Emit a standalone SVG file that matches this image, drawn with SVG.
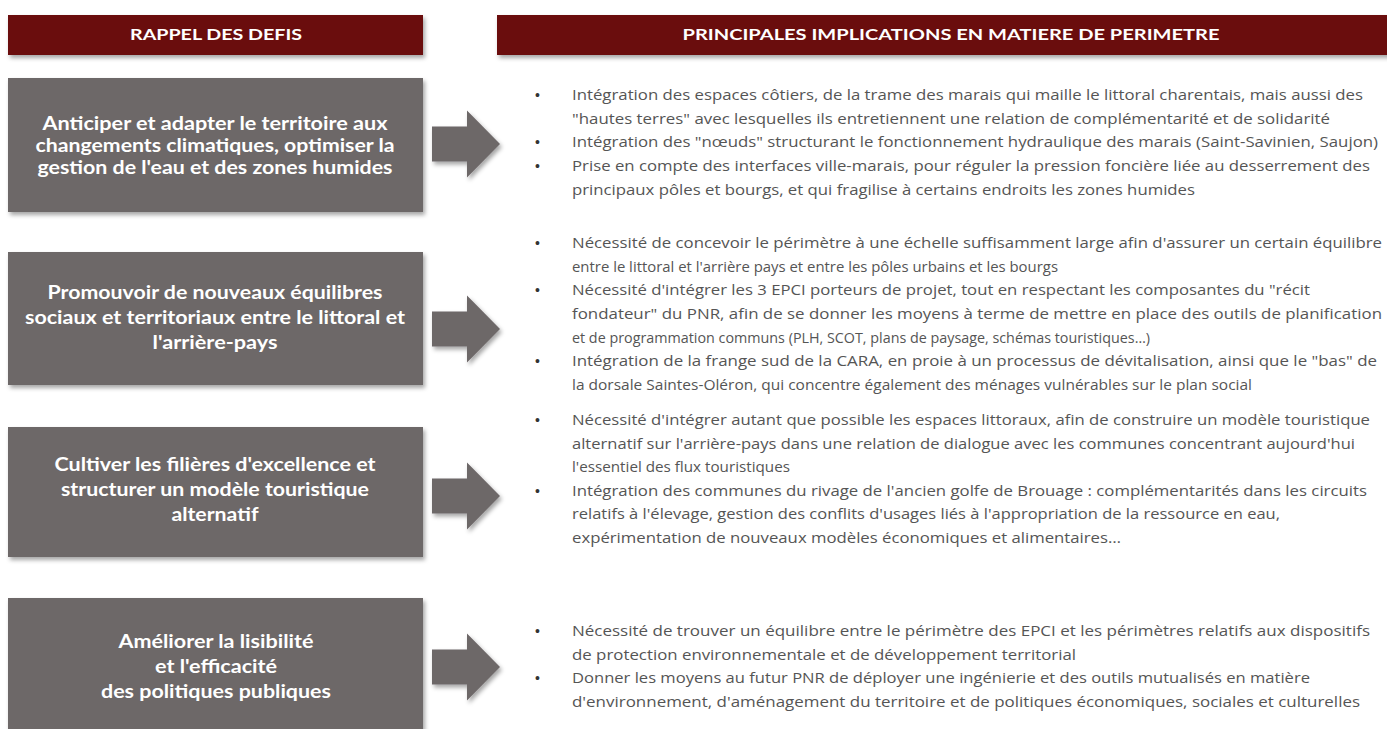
<svg xmlns="http://www.w3.org/2000/svg" width="1387" height="729" viewBox="0 0 1387 729">
<defs>
<filter id="sh" x="-5%" y="-10%" width="115%" height="130%">
<feDropShadow dx="2" dy="3" stdDeviation="2" flood-color="#000" flood-opacity="0.35"/>
</filter>
<style>
.hdr{fill:#6b1111;}
.hdrt{font-family:Lato,"Open Sans","Liberation Sans",sans-serif;font-weight:700;font-size:15px;fill:#fff;text-anchor:middle;}
.box{fill:#6d6768;}
.boxt{font-family:Lato,"Open Sans","Liberation Sans",sans-serif;font-weight:700;font-size:19px;fill:#fff;text-anchor:middle;}
.arr{fill:#6d6768;}
.txt{font-family:"Open Sans","Liberation Sans",sans-serif;font-size:15px;fill:#555;}
.bul{font-family:"Liberation Sans",sans-serif;font-size:14px;fill:#333;}
</style>
</defs>
<rect width="1387" height="729" fill="#fff"/>

<g id="header-defis">
<rect class="hdr" x="8" y="15" width="415" height="40" filter="url(#sh)"/>
<text class="hdrt" x="216" y="40" textLength="172" lengthAdjust="spacingAndGlyphs">RAPPEL DES DEFIS</text>
</g>
<g id="header-implications">
<rect class="hdr" x="497" y="15" width="895" height="40" filter="url(#sh)"/>
<text class="hdrt" x="951" y="40" textLength="537" lengthAdjust="spacingAndGlyphs">PRINCIPALES IMPLICATIONS EN MATIERE DE PERIMETRE</text>
</g>

<g id="defi1">
<rect class="box" x="8" y="78" width="415" height="134" filter="url(#sh)"/>
<text class="boxt" x="215" y="130" textLength="345" lengthAdjust="spacingAndGlyphs">Anticiper et adapter le territoire aux</text>
<text class="boxt" x="215" y="152" textLength="359" lengthAdjust="spacingAndGlyphs">changements climatiques, optimiser la</text>
<text class="boxt" x="215" y="174" textLength="355" lengthAdjust="spacingAndGlyphs">gestion de l'eau et des zones humides</text>
</g>
<g id="defi2">
<rect class="box" x="8" y="252" width="415" height="133" filter="url(#sh)"/>
<text class="boxt" x="215" y="299" textLength="335" lengthAdjust="spacingAndGlyphs">Promouvoir de nouveaux équilibres</text>
<text class="boxt" x="215" y="324" textLength="380" lengthAdjust="spacingAndGlyphs">sociaux et territoriaux entre le littoral et</text>
<text class="boxt" x="215" y="349" textLength="125" lengthAdjust="spacingAndGlyphs">l'arrière-pays</text>
</g>
<g id="defi3">
<rect class="box" x="8" y="427" width="415" height="130" filter="url(#sh)"/>
<text class="boxt" x="215" y="471" textLength="321" lengthAdjust="spacingAndGlyphs">Cultiver les filières d'excellence et</text>
<text class="boxt" x="215" y="496" textLength="308" lengthAdjust="spacingAndGlyphs">structurer un modèle touristique</text>
<text class="boxt" x="215" y="521" textLength="87" lengthAdjust="spacingAndGlyphs">alternatif</text>
</g>
<g id="defi4">
<rect class="box" x="8" y="598" width="415" height="140" filter="url(#sh)"/>
<text class="boxt" x="216" y="648" textLength="195" lengthAdjust="spacingAndGlyphs">Améliorer la lisibilité</text>
<text class="boxt" x="216" y="673" textLength="122" lengthAdjust="spacingAndGlyphs">et l'efficacité</text>
<text class="boxt" x="216" y="698" textLength="230" lengthAdjust="spacingAndGlyphs">des politiques publiques</text>
</g>

<g id="connectors">
<polygon class="arr" filter="url(#sh)" points="432,126.5 467,126.5 467,110.5 500,144 467,177.5 467,161.5 432,161.5"/>
<polygon class="arr" filter="url(#sh)" points="432,311.5 467,311.5 467,295.5 500,329 467,362.5 467,346.5 432,346.5"/>
<polygon class="arr" filter="url(#sh)" points="432,478.5 467,478.5 467,462.5 500,496 467,529.5 467,513.5 432,513.5"/>
<polygon class="arr" filter="url(#sh)" points="432,649.5 467,649.5 467,633.5 500,667 467,700.5 467,684.5 432,684.5"/>
</g>

<g id="implications1">
<text class="bul" x="535" y="100">•</text>
<text class="bul" x="535" y="147">•</text>
<text class="bul" x="535" y="171">•</text>
<text class="txt" x="572" y="100" textLength="791" lengthAdjust="spacingAndGlyphs">Intégration des espaces côtiers, de la trame des marais qui maille le littoral charentais, mais aussi des</text>
<text class="txt" x="572" y="124" textLength="758" lengthAdjust="spacingAndGlyphs">"hautes terres" avec lesquelles ils entretiennent une relation de complémentarité et de solidarité</text>
<text class="txt" x="572" y="147" textLength="806" lengthAdjust="spacingAndGlyphs">Intégration des "nœuds" structurant le fonctionnement hydraulique des marais (Saint-Savinien, Saujon)</text>
<text class="txt" x="572" y="171" textLength="798" lengthAdjust="spacingAndGlyphs">Prise en compte des interfaces ville-marais, pour réguler la pression foncière liée au desserrement des</text>
<text class="txt" x="572" y="195" textLength="623" lengthAdjust="spacingAndGlyphs">principaux pôles et bourgs, et qui fragilise à certains endroits les zones humides</text>
</g>

<g id="implications2">
<text class="bul" x="535" y="248">•</text>
<text class="bul" x="535" y="295">•</text>
<text class="bul" x="535" y="366">•</text>
<text class="txt" x="572" y="248" textLength="810" lengthAdjust="spacingAndGlyphs">Nécessité de concevoir le périmètre à une échelle suffisamment large afin d'assurer un certain équilibre</text>
<text class="txt" x="572" y="272" textLength="486" lengthAdjust="spacingAndGlyphs">entre le littoral et l'arrière pays et entre les pôles urbains et les bourgs</text>
<text class="txt" x="572" y="295" textLength="738" lengthAdjust="spacingAndGlyphs">Nécessité d'intégrer les 3 EPCI porteurs de projet, tout en respectant les composantes du "récit</text>
<text class="txt" x="572" y="319" textLength="810" lengthAdjust="spacingAndGlyphs">fondateur" du PNR, afin de se donner les moyens à terme de mettre en place des outils de planification</text>
<text class="txt" x="572" y="343" textLength="578" lengthAdjust="spacingAndGlyphs">et de programmation communs (PLH, SCOT, plans de paysage, schémas touristiques…)</text>
<text class="txt" x="572" y="366" textLength="805" lengthAdjust="spacingAndGlyphs">Intégration de la frange sud de la CARA, en proie à un processus de dévitalisation, ainsi que le "bas" de</text>
<text class="txt" x="572" y="390" textLength="680" lengthAdjust="spacingAndGlyphs">la dorsale Saintes-Oléron, qui concentre également des ménages vulnérables sur le plan social</text>
</g>

<g id="implications3">
<text class="bul" x="535" y="425">•</text>
<text class="bul" x="535" y="496">•</text>
<text class="txt" x="572" y="425" textLength="798" lengthAdjust="spacingAndGlyphs">Nécessité d'intégrer autant que possible les espaces littoraux, afin de construire un modèle touristique</text>
<text class="txt" x="572" y="449" textLength="783" lengthAdjust="spacingAndGlyphs">alternatif sur l'arrière-pays dans une relation de dialogue avec les communes concentrant aujourd'hui</text>
<text class="txt" x="572" y="472" textLength="218" lengthAdjust="spacingAndGlyphs">l'essentiel des flux touristiques</text>
<text class="txt" x="572" y="496" textLength="795" lengthAdjust="spacingAndGlyphs">Intégration des communes du rivage de l'ancien golfe de Brouage : complémentarités dans les circuits</text>
<text class="txt" x="572" y="519" textLength="708" lengthAdjust="spacingAndGlyphs">relatifs à l'élevage, gestion des conflits d'usages liés à l'appropriation de la ressource en eau,</text>
<text class="txt" x="572" y="543" textLength="549" lengthAdjust="spacingAndGlyphs">expérimentation de nouveaux modèles économiques et alimentaires…</text>
</g>

<g id="implications4">
<text class="bul" x="535" y="636">•</text>
<text class="bul" x="535" y="683">•</text>
<text class="txt" x="572" y="636" textLength="798" lengthAdjust="spacingAndGlyphs">Nécessité de trouver un équilibre entre le périmètre des EPCI et les périmètres relatifs aux dispositifs</text>
<text class="txt" x="572" y="660" textLength="504" lengthAdjust="spacingAndGlyphs">de protection environnementale et de développement territorial</text>
<text class="txt" x="572" y="683" textLength="738" lengthAdjust="spacingAndGlyphs">Donner les moyens au futur PNR de déployer une ingénierie et des outils mutualisés en matière</text>
<text class="txt" x="572" y="707" textLength="788" lengthAdjust="spacingAndGlyphs">d'environnement, d'aménagement du territoire et de politiques économiques, sociales et culturelles</text>
</g>
</svg>
